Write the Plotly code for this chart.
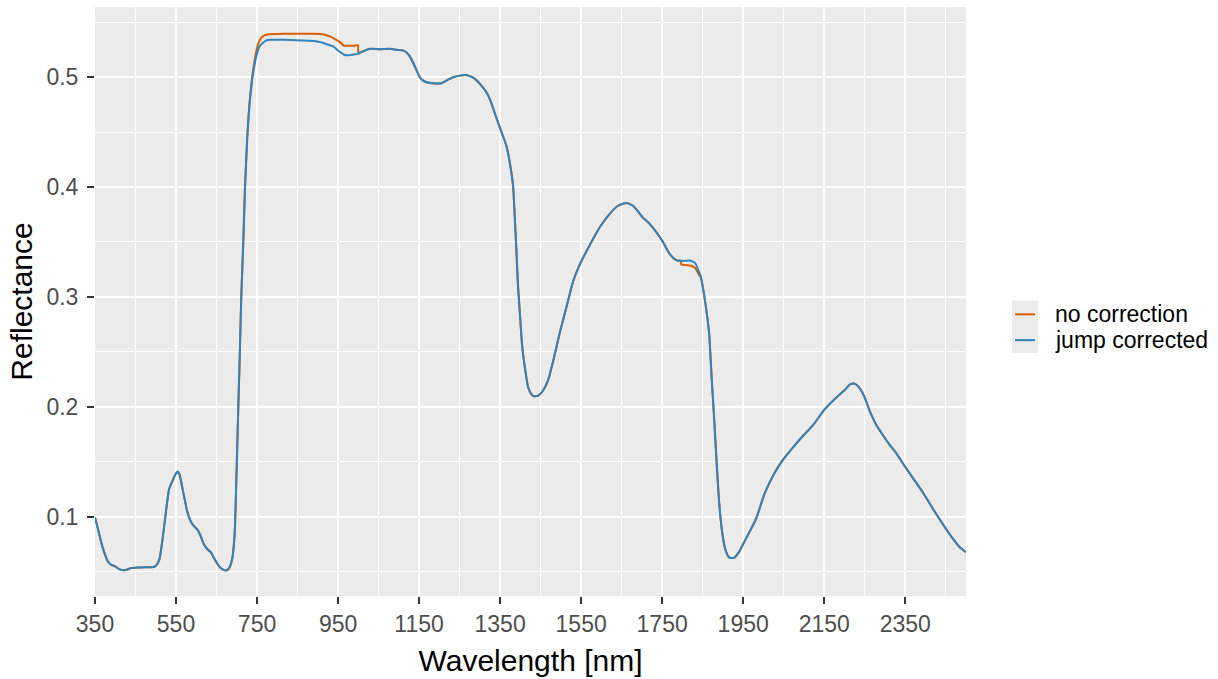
import plotly.graph_objects as go

# Spectral reflectance of a vegetation sample, before and after splice (jump) correction
wavelength = [
    350, 355, 361, 368, 374, 382, 390, 398, 410, 419, 428, 439, 455, 472, 490, 500,
    509, 517, 525, 533, 542, 548, 554, 558, 562, 570, 578, 587, 595, 603, 611, 619,
    628, 636, 644, 652, 660, 668, 675, 681, 689, 695, 699, 703, 707, 711, 716, 720,
    726, 732, 740, 750, 756, 763, 775, 800, 832, 860, 890, 906, 915, 931, 939, 951,
    955, 963, 965, 972, 988, 999, 1000, 1004, 1029, 1053, 1078, 1094, 1110, 1119,
    1127, 1135, 1143, 1152, 1160, 1168, 1185, 1205, 1220, 1234, 1250, 1263, 1275,
    1288, 1300, 1316, 1327, 1337, 1353, 1366, 1374, 1382, 1386, 1390, 1394, 1399,
    1404, 1411, 1419, 1426, 1432, 1444, 1456, 1468, 1481, 1497, 1514, 1530, 1546,
    1571, 1596, 1620, 1641, 1662, 1678, 1690, 1703, 1718, 1727, 1743, 1752, 1767,
    1779, 1788, 1796, 1797, 1808, 1820, 1829, 1833, 1841, 1845, 1857, 1866, 1872,
    1878, 1884, 1890, 1897, 1905, 1915, 1927, 1939, 1950, 1960, 1970, 1983, 2003,
    2028, 2049, 2073, 2098, 2123, 2152, 2180, 2200, 2215, 2225, 2235, 2250, 2262,
    2279, 2295, 2312, 2328, 2344, 2369, 2394, 2419, 2443, 2468, 2484, 2500,
]

reflectance_corrected = [
    0.099, 0.092, 0.083, 0.073, 0.066, 0.059, 0.056, 0.055, 0.052, 0.051, 0.0515, 0.053, 0.0535, 0.0537, 0.0538, 0.055,
    0.061, 0.080, 0.104, 0.125, 0.133, 0.138, 0.141, 0.139, 0.133, 0.118, 0.104, 0.095, 0.091, 0.088, 0.082, 0.0745,
    0.070, 0.0675, 0.062, 0.057, 0.053, 0.0513, 0.051, 0.053, 0.062, 0.0865, 0.135, 0.190, 0.242, 0.300, 0.349, 0.397,
    0.446, 0.477, 0.503, 0.522, 0.528, 0.531, 0.534, 0.5342, 0.534, 0.5335, 0.533, 0.532, 0.531, 0.529, 0.528, 0.524,
    0.523, 0.521, 0.5205, 0.520, 0.5207, 0.5213, 0.5215, 0.5225, 0.526, 0.5255, 0.526, 0.525, 0.5245, 0.5225,
    0.519, 0.5135, 0.507, 0.500, 0.497, 0.4955, 0.4945, 0.4946, 0.4975, 0.500, 0.5015, 0.502, 0.501,
    0.4985, 0.494, 0.4865, 0.478, 0.467, 0.4505, 0.437, 0.422, 0.401, 0.374, 0.344, 0.311, 0.284,
    0.257, 0.236, 0.218, 0.212, 0.2096, 0.210, 0.2147, 0.2237, 0.2417, 0.267, 0.291, 0.314, 0.329,
    0.347, 0.3634, 0.3754, 0.383, 0.3855, 0.383, 0.378, 0.372, 0.367, 0.363, 0.355, 0.350, 0.340,
    0.335, 0.333, 0.333, 0.333, 0.333, 0.333, 0.3315, 0.330, 0.3225, 0.319, 0.2934, 0.2664, 0.2273,
    0.1913, 0.152, 0.116, 0.089, 0.0712, 0.0628, 0.0622, 0.0673, 0.075, 0.082, 0.089, 0.099, 0.121,
    0.140, 0.152, 0.163, 0.1735, 0.1835, 0.198, 0.2084, 0.215, 0.2205, 0.221, 0.218, 0.2084, 0.1964,
    0.183, 0.174, 0.165, 0.1575, 0.1485, 0.135, 0.1216, 0.1066, 0.093, 0.0796, 0.0722, 0.0675,
]

reflectance_raw = [
    0.099, 0.092, 0.083, 0.073, 0.066, 0.059, 0.056, 0.055, 0.052, 0.051, 0.0515, 0.053, 0.0535, 0.0537, 0.0538, 0.055,
    0.061, 0.080, 0.104, 0.125, 0.133, 0.138, 0.141, 0.139, 0.133, 0.118, 0.104, 0.095, 0.091, 0.088, 0.082, 0.0745,
    0.070, 0.0675, 0.062, 0.057, 0.053, 0.0513, 0.051, 0.053, 0.062, 0.0865, 0.135, 0.190, 0.242, 0.300, 0.349, 0.397,
    0.446, 0.479, 0.506, 0.527, 0.5335, 0.537, 0.539, 0.5395, 0.5397, 0.5397, 0.5397, 0.5395, 0.539, 0.537, 0.5355, 0.533,
    0.532, 0.529, 0.5288, 0.5288, 0.5288, 0.5292, 0.5215, 0.5225, 0.526, 0.5255, 0.526, 0.525, 0.5245, 0.5225,
    0.519, 0.5135, 0.507, 0.500, 0.497, 0.4955, 0.4945, 0.4946, 0.4975, 0.500, 0.5015, 0.502, 0.501,
    0.4985, 0.494, 0.4865, 0.478, 0.467, 0.4505, 0.437, 0.422, 0.401, 0.374, 0.344, 0.311, 0.284,
    0.257, 0.236, 0.218, 0.212, 0.2096, 0.210, 0.2147, 0.2237, 0.2417, 0.267, 0.291, 0.314, 0.329,
    0.347, 0.3634, 0.3754, 0.383, 0.3855, 0.383, 0.378, 0.372, 0.367, 0.363, 0.355, 0.350, 0.340,
    0.335, 0.333, 0.333, 0.3295, 0.329, 0.3285, 0.327, 0.3255, 0.320, 0.318, 0.2934, 0.2664, 0.2273,
    0.1913, 0.152, 0.116, 0.089, 0.0712, 0.0628, 0.0622, 0.0673, 0.075, 0.082, 0.089, 0.099, 0.121,
    0.140, 0.152, 0.163, 0.1735, 0.1835, 0.198, 0.2084, 0.215, 0.2205, 0.221, 0.218, 0.2084, 0.1964,
    0.183, 0.174, 0.165, 0.1575, 0.1485, 0.135, 0.1216, 0.1066, 0.093, 0.0796, 0.0722, 0.0675,
]

series_names = ["no correction", "jump corrected"]
series_colors = ["#D95F02", "#3182BD"]

x_major = list(range(350, 2351, 200))
x_minor = list(range(450, 2451, 200))
y_major = [0.1, 0.2, 0.3, 0.4, 0.5]
y_minor = [0.05, 0.15, 0.25, 0.35, 0.45, 0.55]

FONT = "Liberation Sans, Arial, sans-serif"

fig = go.Figure()
for name, values, color in zip(series_names, [reflectance_raw, reflectance_corrected], series_colors):
    fig.add_trace(go.Scatter(
        x=wavelength, y=values, mode="lines", name=name,
        line=dict(color=color, width=2, shape="spline", smoothing=0.5),
        showlegend=False,
    ))

axis_common = dict(
    showgrid=True, gridcolor="white", gridwidth=2,
    zeroline=False, showline=False,
    ticks="outside", ticklen=7, tickwidth=2, tickcolor="#333333",
    tickfont=dict(family=FONT, size=23, color="#4D4D4D"),
)

fig.update_xaxes(
    range=[350, 2500], tickvals=x_major, ticktext=[str(v) for v in x_major],
    minor=dict(tickvals=x_minor, showgrid=True, gridcolor="white", gridwidth=1),
    title=dict(text="Wavelength [nm]", font=dict(family=FONT, size=30, color="black"), standoff=14),
    **axis_common,
)
fig.update_yaxes(
    range=[0.0276, 0.564], tickvals=y_major, ticktext=[f"{v:.1f}" for v in y_major],
    minor=dict(tickvals=y_minor, showgrid=True, gridcolor="white", gridwidth=1),
    title=dict(text="Reflectance", font=dict(family=FONT, size=30, color="black"), standoff=4),
    ticklabelstandoff=4,
    **axis_common,
)

# Legend: grey key box, coloured key lines and labels
shapes = [dict(type="rect", xref="paper", yref="paper", x0=1.0528, x1=1.0827,
               y0=0.4125, y1=0.5017, fillcolor="#EBEBEB", line=dict(width=0), layer="above")]
annotations = []
for i, (name, color) in enumerate(zip(series_names, series_colors)):
    yk = 0.4782 - i * 0.0438
    shapes.append(dict(type="line", xref="paper", yref="paper", x0=1.0563, x1=1.0792,
                       y0=yk, y1=yk, line=dict(color=color, width=2), layer="above"))
    annotations.append(dict(xref="paper", yref="paper", x=1.0999, y=yk, text=name,
                            showarrow=False, xanchor="left", yanchor="middle",
                            font=dict(family=FONT, size=23, color="black")))

fig.update_layout(
    width=1218, height=679,
    margin=dict(l=95, r=252, t=7, b=78),
    paper_bgcolor="white", plot_bgcolor="#EBEBEB",
    font=dict(family=FONT),
    shapes=shapes, annotations=annotations,
    showlegend=False,
)

fig.write_html("out.html")
